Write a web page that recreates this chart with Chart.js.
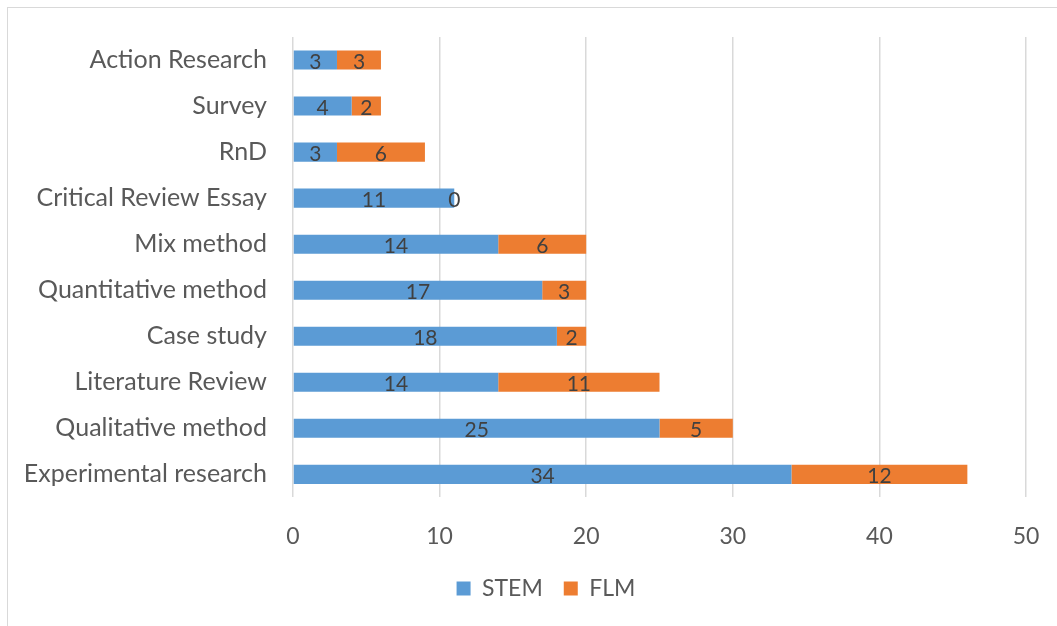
<!DOCTYPE html>
<html>
<head>
<meta charset="utf-8">
<script src="https://cdn.jsdelivr.net/npm/chart.js@4"></script>
<style>
  html, body { margin: 0; padding: 0; background: #fff; }
  #wrap { position: relative; width: 1057px; height: 626px; }
  #frame { position: absolute; left: 7px; top: 7px; width: 1060px; height: 630px; border: 1px solid #d9d9d9; pointer-events: none; }
  canvas { position: absolute; left: 0; top: 0; }
</style>
</head>
<body>
<div id="wrap">
  <canvas id="chart" width="1057" height="626"></canvas>
  <div id="frame"></div>
</div>
<script>
// categories, top to bottom
const categories = [
  'Action Research', 'Survey', 'RnD', 'Critical Review Essay', 'Mix method',
  'Quantitative method', 'Case study', 'Literature Review', 'Qualitative method',
  'Experimental research'
];
const stemValues = [3, 4, 3, 11, 14, 17, 18, 14, 25, 34];
const flmValues = [3, 2, 6, 0, 6, 3, 2, 11, 5, 12];
const xTicks = [0, 10, 20, 30, 40, 50];

const FONT = 'Lato, "Open Sans", sans-serif';
const TEXT = '#595959';

// 数据标签：画在每个条形段中间
const barLabels = {
  id: 'barLabels',
  afterDatasetsDraw(chart) {
    const ctx = chart.ctx;
    ctx.save();
    ctx.font = '21px ' + FONT;
    ctx.fillStyle = '#404040';
    ctx.textAlign = 'center';
    ctx.textBaseline = 'middle';
    chart.data.datasets.forEach((ds, i) => {
      const meta = chart.getDatasetMeta(i);
      meta.data.forEach((bar, j) => {
        const p = bar.getCenterPoint();
        ctx.fillText(String(ds.data[j]), p.x, p.y + 2);
      });
    });
    ctx.restore();
  }
};

// 图例位置微调（原图图例以整个外框居中）
const legendShift = {
  id: 'legendShift',
  afterLayout(chart) {
    const lg = chart.legend;
    if (!lg) return;
    lg.left += 33; lg.right += 33;
    lg.top -= 19; lg.bottom -= 19;
  }
};

const ctx = document.getElementById('chart').getContext('2d');
new Chart(ctx, {
  type: 'bar',
  data: {
    labels: categories,
    datasets: [
      { label: 'STEM', data: stemValues, backgroundColor: '#5b9bd5', barPercentage: 0.46, categoryPercentage: 0.9 },
      { label: 'FLM', data: flmValues, backgroundColor: '#ed7d31', barPercentage: 0.46, categoryPercentage: 0.9 }
    ]
  },
  options: {
    indexAxis: 'y',
    responsive: false,
    animation: false,
    layout: { padding: { top: 37, right: 31, bottom: -3, left: 0 } },
    scales: {
      x: {
        stacked: true,
        min: 0,
        max: 50,
        afterBuildTicks: (scale) => { scale.ticks = xTicks.map(v => ({ value: v })); },
        afterFit: (scale) => { scale.paddingLeft = 0; scale.paddingRight = 0; },
        grid: { color: '#d9d9d9', lineWidth: 1.5, drawTicks: false },
        border: { display: false },
        ticks: { color: TEXT, font: { family: FONT, size: 23 }, padding: 25 }
      },
      y: {
        stacked: true,
        grid: { display: false },
        border: { display: false },
        ticks: { color: TEXT, font: { family: FONT, size: 25 }, padding: 18 },
        afterFit: (scale) => { scale.width = 293; }
      }
    },
    plugins: {
      legend: {
        position: 'bottom',
        labels: { color: TEXT, font: { family: FONT, size: 23 }, boxWidth: 14, boxHeight: 14, padding: 21 }
      },
      tooltip: { enabled: false }
    }
  },
  plugins: [barLabels, legendShift]
});
</script>
</body>
</html>
